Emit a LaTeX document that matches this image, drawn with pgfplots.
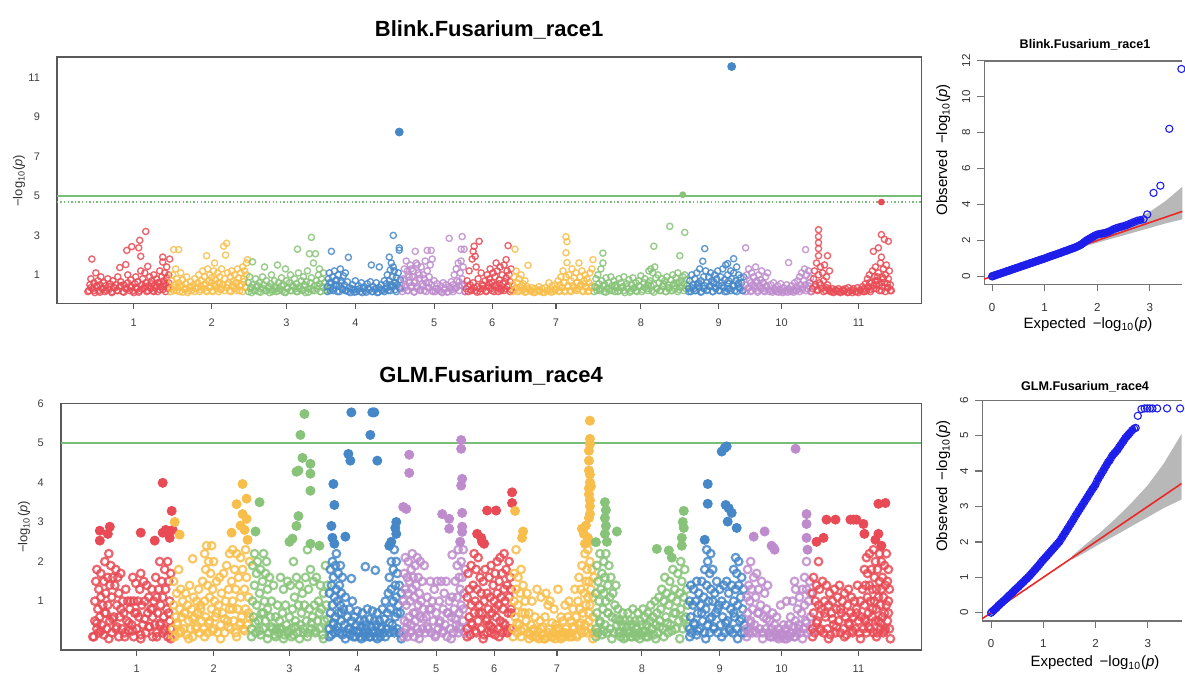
\documentclass[border=0pt]{standalone}
\usepackage{pgfplots}
\usepackage{pgfplotstable}
\pgfplotsset{compat=1.18}
\usepackage{fontspec}
\setmainfont{Liberation Sans}
\definecolor{cr}{RGB}{232,75,85}
\definecolor{co}{RGB}{248,190,75}
\definecolor{cg}{RGB}{135,195,120}
\definecolor{cb}{RGB}{70,135,200}
\definecolor{cp}{RGB}{190,140,205}
\definecolor{thr}{RGB}{120,190,120}
\definecolor{qb}{RGB}{30,30,235}
\definecolor{qr}{RGB}{235,40,40}
\pgfplotstableread{
x y
0 0
0.01 0.02
0.03 0.03
0.05 0.06
0.08 0.08
0.1 0.11
0.13 0.13
0.16 0.16
0.19 0.2
0.22 0.22
0.25 0.25
0.28 0.29
0.31 0.31
0.34 0.34
0.37 0.38
0.4 0.4
0.43 0.43
0.46 0.47
0.49 0.49
0.52 0.52
0.55 0.56
0.58 0.58
0.61 0.61
0.64 0.65
0.67 0.67
0.7 0.7
0.73 0.74
0.76 0.76
0.79 0.79
0.82 0.83
0.85 0.85
0.88 0.88
0.91 0.92
0.94 0.94
0.97 0.97
1.0 1.0
1.03 1.03
1.06 1.07
1.09 1.1
1.12 1.13
1.15 1.16
1.18 1.19
1.21 1.22
1.24 1.25
1.27 1.28
1.3 1.31
1.33 1.35
1.36 1.38
1.39 1.41
1.42 1.44
1.45 1.47
1.48 1.51
1.51 1.54
1.54 1.57
1.57 1.6
1.6 1.64
1.63 1.68
1.66 1.72
1.69 1.77
1.72 1.83
1.75 1.9
1.78 1.97
1.81 2.03
1.84 2.08
1.87 2.13
1.9 2.18
1.93 2.23
1.96 2.28
2.0 2.33
2.04 2.36
2.08 2.38
2.12 2.4
2.16 2.43
2.2 2.47
2.24 2.52
2.28 2.58
2.32 2.64
2.36 2.68
2.4 2.72
2.45 2.76
2.5 2.8
2.55 2.85
2.6 2.91
2.65 2.97
2.7 3.03
2.76 3.1
2.82 3.14
2.88 3.18
}\qqa
\pgfplotstableread{
x y
0 0
0.02 0.03
0.05 0.07
0.08 0.11
0.11 0.15
0.14 0.2
0.17 0.24
0.2 0.28
0.23 0.32
0.26 0.36
0.29 0.4
0.32 0.45
0.35 0.49
0.38 0.53
0.41 0.57
0.44 0.62
0.47 0.66
0.5 0.7
0.53 0.74
0.56 0.79
0.59 0.83
0.62 0.87
0.65 0.92
0.68 0.96
0.71 1.0
0.74 1.05
0.77 1.1
0.8 1.15
0.83 1.2
0.86 1.25
0.89 1.3
0.92 1.35
0.95 1.41
0.98 1.46
1.01 1.51
1.04 1.56
1.07 1.61
1.1 1.66
1.13 1.71
1.16 1.76
1.19 1.81
1.22 1.86
1.25 1.91
1.28 1.96
1.31 2.01
1.34 2.08
1.37 2.15
1.4 2.22
1.43 2.29
1.46 2.36
1.49 2.43
1.52 2.5
1.55 2.57
1.58 2.64
1.61 2.72
1.64 2.79
1.67 2.86
1.7 2.93
1.73 3.0
1.76 3.07
1.79 3.14
1.82 3.21
1.85 3.28
1.88 3.35
1.91 3.42
1.94 3.49
1.97 3.55
2.0 3.62
2.03 3.72
2.06 3.8
2.09 3.87
2.12 3.95
2.15 4.02
2.18 4.1
2.21 4.17
2.24 4.25
2.27 4.3
2.3 4.38
2.33 4.45
2.36 4.5
2.39 4.55
2.42 4.6
2.45 4.67
2.48 4.73
2.51 4.8
2.54 4.86
2.57 4.93
2.6 4.98
2.63 5.03
2.66 5.08
2.7 5.15
2.74 5.2
2.77 5.22
}\qqb
\pgfplotsset{
 manh/.style={scale only axis, anchor=south west,
   axis line style={draw=black!65, line width=0.7pt},
   tick align=outside, major tick length=3pt,
   xtick pos=bottom, ytick pos=left,
   x tick style={draw=black!65, line width=0.6pt}, y tick style={draw=none},
   tick label style={font=\fontsize{5.5}{6}\selectfont, text=black!75},
   xticklabel style={anchor=center, yshift=-6.5pt},
   yticklabel style={anchor=east, xshift=-2pt},
   xticklabels={1,2,3,4,5,6,7,8,9,10,11}},
 qq/.style={scale only axis, anchor=south west,
   axis x line*=box, axis y line*=left,
   axis line style={draw=black!55, line width=0.7pt},
   tick align=outside, major tick length=3.5pt,
   xtick pos=bottom, ytick pos=left,
   tick style={draw=black!55, line width=0.6pt},
   tick label style={font=\fontsize{5.8}{6.5}\selectfont, text=black!80},
   xticklabel style={anchor=center, yshift=-8pt},
   yticklabel style={rotate=90, anchor=south},
   xtick={0,1,2,3}, xticklabels={0,1,2,3}},
 ot/.style={only marks, mark=o, mark size=1.55pt, mark options={line width=0.7pt, draw opacity=0.85}},
 ft/.style={only marks, mark=*, mark size=2pt},
 ob/.style={only marks, mark=o, mark size=1.9pt, mark options={line width=1.1pt, draw opacity=0.85}},
 fb/.style={only marks, mark=*, mark size=2.3pt},
 qp/.style={only marks, mark=o, mark size=1.8pt, color=qb, mark options={line width=0.55pt}},
 ql/.style={no marks, color=qb, line width=2.4pt},
}
\begin{document}
\begin{tikzpicture}
\path (0,0) rectangle (592.5pt,337.5pt);
% ---------------- top Manhattan ----------------
\begin{axis}[manh, at={(28.5pt,185.5pt)}, width=433pt, height=123.5pt,
  xmin=57, xmax=923, ymin=-0.45, ymax=12.05,
  ytick={1,3,5,7,9,11}, yticklabels={1,3,5,7,9,11},
  xtick={134,212,287,356,435,493,557,642,720,783,860}]
\addplot[thr, line width=0.8pt] coordinates {(57,5)(923,5)};
\addplot[thr, line width=0.8pt, dash pattern=on 0.7pt off 1.1pt] coordinates {(57,4.7)(923,4.7)};
% dense low layers
\addplot[ot, cr] coordinates {(88,.15)(91,.35)(94,.2)(97,.45)(100,.12)(103,.3)(106,.22)(109,.4)(112,.15)(115,.33)(118,.2)(121,.45)(124,.12)(127,.3)(130,.4)(133,.18)(136,.35)(139,.12)(142,.28)(145,.42)(148,.2)(151,.35)(154,.15)(157,.45)(160,.25)(163,.4)(166,.15)(169,.35)(164,.55)(158,.6)(152,.55)(466,.15)(469,.4)(472,.2)(475,.35)(478,.12)(481,.3)(484,.45)(487,.15)(490,.35)(493,.2)(496,.45)(499,.15)(502,.3)(505,.2)(508,.4)(511,.15)(490,.6)(500,.55)(506,.65)(813,.15)(816,.4)(819,.25)(822,.5)(825,.15)(828,.35)(831,.2)(834,.15)(838,.2)(842,.15)(846,.2)(850,.12)(854,.22)(858,.15)(862,.2)(866,.15)(869,.35)(872,.15)(875,.3)(878,.5)(881,.2)(884,.4)(887,.15)(890,.35)(893,.2)(871,.6)(877,.7)(883,.6)(889,.55)(885,.8)(879,.9)};
\addplot[ot, co] coordinates {(171,.15)(174,.35)(177,.2)(180,.45)(183,.12)(186,.3)(189,.2)(192,.4)(195,.15)(198,.35)(201,.25)(204,.5)(207,.15)(210,.35)(213,.2)(216,.45)(219,.15)(222,.3)(225,.2)(228,.5)(231,.15)(234,.35)(237,.2)(240,.45)(243,.15)(246,.35)(212,.6)(220,.55)(236,.6)(244,.65)(514,.15)(517,.35)(520,.2)(523,.45)(526,.12)(529,.3)(532,.2)(536,.12)(540,.22)(544,.12)(548,.2)(552,.12)(556,.22)(560,.15)(563,.35)(566,.2)(569,.45)(572,.15)(575,.35)(578,.2)(581,.45)(584,.15)(587,.35)(590,.2)(593,.45)(585,.55)(578,.6)};
\addplot[ot, cg] coordinates {(249,.15)(252,.35)(255,.2)(258,.45)(261,.12)(264,.3)(267,.2)(270,.4)(273,.15)(276,.3)(279,.2)(282,.45)(285,.12)(288,.3)(291,.2)(294,.4)(297,.15)(300,.3)(303,.2)(306,.45)(309,.12)(312,.3)(315,.2)(318,.45)(321,.15)(324,.35)(327,.2)(595,.15)(598,.35)(601,.2)(604,.45)(607,.12)(610,.3)(613,.2)(616,.45)(619,.15)(622,.35)(625,.2)(628,.4)(631,.12)(634,.3)(637,.2)(640,.45)(643,.15)(646,.35)(649,.2)(652,.45)(655,.12)(658,.3)(661,.2)(664,.4)(667,.15)(670,.3)(673,.2)(676,.45)(679,.15)(682,.35)(685,.2)(688,.45)(650,.6)(665,.55)(680,.6)};
\addplot[ot, cb] coordinates {(328,.15)(331,.35)(334,.2)(337,.45)(340,.15)(343,.3)(346,.2)(349,.15)(352,.3)(355,.12)(358,.25)(361,.15)(364,.3)(367,.12)(370,.25)(373,.15)(376,.3)(379,.12)(382,.25)(385,.15)(388,.35)(391,.2)(394,.45)(397,.15)(400,.35)(330,.6)(336,.7)(342,.6)(396,.6)(391,.5)(690,.15)(693,.35)(696,.2)(699,.45)(702,.12)(705,.3)(708,.2)(711,.45)(714,.15)(717,.35)(720,.2)(723,.45)(726,.15)(729,.3)(732,.2)(735,.45)(738,.15)(741,.35)(744,.2)(700,.6)(715,.65)(730,.7)(740,.6)};
\addplot[ot, cp] coordinates {(403,.15)(406,.35)(409,.2)(412,.45)(415,.12)(418,.3)(421,.2)(424,.45)(427,.15)(430,.35)(433,.2)(436,.15)(439,.3)(442,.15)(445,.25)(448,.12)(451,.3)(454,.15)(457,.35)(460,.2)(463,.45)(466,.15)(405,.7)(410,.9)(415,.6)(420,1.0)(425,.8)(430,.6)(460,.65)(412,1.3)(418,1.5)(408,1.2)(747,.15)(750,.35)(753,.2)(756,.45)(759,.12)(762,.3)(765,.2)(768,.45)(771,.15)(774,.12)(777,.22)(780,.12)(783,.2)(786,.15)(789,.12)(792,.22)(795,.12)(798,.2)(801,.15)(804,.35)(807,.2)(810,.45)(812,.15)(752,.6)(758,.7)(764,.6)};
% chr1
\addplot[ot, cr] coordinates {(89,.2)(90,.5)(91,.8)(92,1.8)(93,.3)(94,.6)(95,.1)(96,1.1)(97,.4)(98,.7)(99,.2)(100,.5)(101,.9)(102,.3)(104,.6)(105,.15)(106,.45)(108,.8)(109,.25)(110,.55)(112,.1)(113,.7)(114,.35)(116,.5)(117,.2)(118,.9)(120,1.37)(120,.4)(121,.65)(123,.15)(124,.5)(126,1.52)(126,.3)(127,2.24)(128,1.0)(128,.6)(130,.2)(131,.75)(132,2.43)(132,.4)(134,.1)(135,.55)(136,.9)(137,.3)(138,.65)(139,2.37)(140,2.75)(141,1.94)(140,.2)(141,1.2)(142,.5)(143,.8)(144,.3)(145,1.1)(146,3.2)(146,.6)(148,1.43)(147,.15)(149,.45)(150,.9)(151,.3)(152,.7)(153,.2)(154,1.0)(155,.5)(156,.35)(157,.8)(158,.15)(159,.6)(160,1.2)(161,.4)(162,.9)(163,1.9)(163,1.65)(163,.25)(164,.7)(165,1.1)(166,.5)(167,.85)(167,1.4)(168,.3)(169,1.0)(170,1.8)(169,.6)};
% chr2
\addplot[ot, co] coordinates {(171,.3)(172,.7)(173,1.0)(174,2.28)(174,.2)(175,.5)(176,1.3)(177,.8)(178,.35)(179,2.28)(179,.6)(180,.15)(181,1.1)(182,.45)(183,.75)(185,.25)(186,.55)(187,.9)(188,.1)(190,.4)(191,.65)(192,.2)(194,.5)(195,.8)(196,.3)(198,.6)(199,1.0)(200,.15)(201,.45)(202,.7)(203,1.2)(204,.3)(205,.9)(206,.55)(207,1.97)(207,.2)(208,1.3)(209,.7)(210,1.0)(211,.4)(212,.85)(213,.15)(214,1.2)(215,1.6)(215,.5)(216,.75)(217,.3)(218,1.1)(219,.6)(220,.9)(221,.25)(222,1.3)(223,.5)(224,2.45)(225,.8)(226,2.0)(227,2.6)(227,.35)(228,1.1)(229,.6)(230,.2)(231,.9)(232,1.2)(233,.45)(234,.7)(235,1.0)(236,.3)(237,.6)(238,1.3)(239,.85)(240,.2)(241,1.1)(242,.5)(243,1.4)(244,.8)(245,1.2)(246,.4)(247,1.6)(248,1.77)(247,1.0)};
% chr3
\addplot[ot, cg] coordinates {(249,.6)(250,.9)(251,.3)(252,.1)(253,1.66)(253,.5)(255,.2)(256,.8)(257,.4)(259,.15)(260,.6)(261,.3)(263,.9)(264,.5)(265,1.4)(266,.2)(267,.7)(269,.35)(270,.1)(271,.55)(272,1.0)(273,.25)(275,.7)(276,.4)(278,1.5)(277,.15)(279,.6)(280,.3)(282,.85)(283,.2)(284,.5)(286,1.3)(286,.1)(287,.7)(288,.35)(290,.6)(291,1.0)(292,.2)(293,.45)(295,.8)(296,.3)(297,.55)(298,2.3)(298,.15)(299,1.1)(300,.4)(302,.7)(303,.25)(304,.9)(305,.5)(306,.1)(307,.65)(308,1.2)(309,.3)(310,2.07)(311,.6)(312,2.9)(312,.85)(313,.2)(314,1.6)(315,.45)(316,2.07)(317,.7)(318,.3)(319,1.0)(320,1.3)(320,.55)(321,.15)(322,.8)(323,.4)(324,1.1)(325,.6)(326,.25)};
% chr4
\addplot[ot, cb] coordinates {(328,.4)(329,.8)(330,1.1)(331,.2)(332,2.19)(332,.6)(333,.9)(334,.3)(335,1.2)(336,.5)(337,.75)(338,.15)(339,1.0)(340,.45)(341,1.3)(342,.7)(343,.25)(344,.95)(345,.5)(346,1.1)(347,.2)(348,.65)(349,1.89)(350,.35)(351,.1)(353,.5)(354,.25)(356,.7)(357,.15)(359,.45)(360,.3)(362,.6)(363,.1)(365,.4)(366,.2)(368,.55)(369,.3)(371,.65)(372,1.5)(373,.15)(374,.4)(376,.25)(377,.6)(378,.1)(380,1.4)(380,.35)(382,.5)(383,.2)(385,.7)(386,.3)(387,.55)(388,1.0)(389,.2)(390,1.9)(390,.7)(391,1.25)(392,1.6)(392,.4)(393,.9)(394,1.4)(394,3.0)(395,1.2)(395,.6)(396,.25)(397,.85)(398,.5)(399,1.1)(400,2.37)(400,2.25)(401,.3)(401,.75)};
% chr5
\addplot[ot, cp] coordinates {(403,.3)(404,.8)(405,1.3)(406,.5)(407,1.7)(408,.2)(409,1.0)(410,.6)(411,1.5)(412,.35)(413,.9)(414,1.2)(415,.15)(416,2.19)(416,.7)(417,1.6)(418,.4)(419,1.1)(420,.8)(421,.25)(422,1.4)(423,.55)(424,1.0)(425,.2)(426,1.7)(427,.6)(428,2.24)(428,1.2)(429,.35)(430,.9)(431,1.5)(432,2.24)(432,.5)(433,1.8)(434,.15)(435,.7)(437,.3)(438,.55)(440,.2)(441,.45)(443,.1)(444,.6)(446,.3)(447,.5)(449,.15)(450,2.85)(450,.4)(452,.65)(453,.25)(454,.5)(455,1.0)(456,.3)(457,1.3)(458,.7)(459,1.6)(460,.45)(461,1.1)(462,2.3)(462,1.7)(463,2.94)(463,.8)(464,1.4)(465,2.3)(465,.5)};
% chr6
\addplot[ot, cr] coordinates {(467,.3)(468,.7)(469,.15)(470,1.2)(471,.5)(472,.25)(473,1.8)(474,2.19)(474,.6)(475,2.45)(476,1.94)(476,.2)(477,1.4)(478,.4)(480,2.7)(479,.8)(481,.15)(482,1.1)(483,.5)(484,.3)(486,.7)(487,.2)(488,1.0)(489,.45)(490,.8)(491,1.3)(492,.3)(493,.6)(494,1.1)(495,.15)(496,.9)(497,1.6)(497,.5)(498,1.2)(499,.35)(500,.75)(501,1.4)(502,.2)(503,1.0)(504,.55)(505,1.5)(506,.3)(507,1.77)(507,.85)(508,1.2)(509,2.48)(509,.45)(510,1.0)(511,.65)(512,1.3)(512,.25)};
% chr7
\addplot[ot, co] coordinates {(514,.5)(515,.9)(516,2.3)(516,.25)(517,1.2)(518,.6)(519,.15)(520,.8)(521,.4)(522,1.0)(523,.2)(524,.55)(525,.3)(526,.7)(527,.15)(529,1.48)(528,.4)(530,.25)(532,.15)(533,.35)(535,.1)(536,.3)(538,.2)(540,.4)(541,.15)(543,.3)(545,.1)(546,.35)(548,.2)(550,.6)(551,.25)(553,.45)(554,.15)(556,.5)(557,.3)(559,.7)(560,.2)(561,.5)(562,.9)(563,.35)(564,1.2)(565,.6)(566,.15)(567,2.93)(568,2.68)(567,2.12)(568,1.62)(567,.9)(569,.4)(570,1.0)(571,.2)(572,.7)(573,1.3)(574,.45)(575,.85)(576,.25)(577,1.1)(578,.6)(580,1.6)(579,.3)(581,.9)(582,.5)(583,1.2)(584,.2)(585,.7)(586,1.0)(587,.4)(588,.8)(589,.15)(590,.6)(591,1.1)(592,.35)(593,1.3)(594,1.77)};
% chr8
\addplot[ot, cg] coordinates {(596,.4)(597,.8)(598,.2)(599,1.0)(600,.55)(601,.3)(602,1.3)(603,.7)(604,2.1)(604,1.6)(605,.15)(606,.5)(607,.85)(608,.3)(610,.6)(611,.2)(612,.9)(613,.45)(615,.7)(616,.15)(617,.5)(618,.35)(620,.8)(621,.2)(622,.6)(624,.4)(625,.9)(626,.1)(628,.55)(629,.3)(630,.75)(632,.2)(633,.5)(634,.85)(636,.35)(637,.6)(638,.15)(640,.7)(641,.4)(642,.95)(644,.25)(645,.6)(646,.8)(648,.3)(649,.5)(650,1.2)(651,.7)(652,1.3)(653,.2)(654,1.1)(655,2.45)(655,.5)(656,1.4)(657,.85)(658,.3)(659,1.0)(660,.6)(662,.2)(663,.8)(664,.45)(666,.7)(667,.15)(668,.9)(669,.5)(670,.35)(671,3.46)(672,.75)(673,.2)(674,1.0)(675,.55)(676,.3)(677,.85)(678,.6)(679,1.1)(681,1.97)(680,.25)(682,.7)(683,.4)(684,.9)(685,.55)(686,3.15)(686,1.0)(687,.3)(688,.75)};
% chr9
\addplot[ot, cb] coordinates {(690,.3)(691,.7)(692,.15)(693,1.0)(694,.5)(695,.3)(696,.8)(697,.2)(698,1.1)(699,.55)(700,.35)(701,1.3)(702,.7)(703,.15)(704,1.69)(705,.9)(706,2.33)(706,.45)(707,1.2)(708,.6)(709,.25)(710,.9)(711,.4)(712,1.1)(713,.7)(714,.15)(715,.55)(716,1.0)(717,.3)(718,.8)(719,1.2)(720,.45)(721,.2)(722,.9)(723,.6)(724,1.3)(725,.35)(726,.75)(727,1.5)(728,.15)(729,1.57)(729,1.0)(730,.55)(731,.3)(732,1.2)(733,.8)(734,.45)(735,1.82)(735,1.1)(736,.2)(737,.7)(738,1.4)(739,.5)(740,1.0)(741,.3)(742,.85)(743,.6)(744,.2)(745,.9)};
% chr10
\addplot[ot, cp] coordinates {(747,2.37)(747,.5)(748,1.0)(749,.3)(750,1.3)(751,.7)(752,.15)(753,1.1)(754,.5)(755,.9)(756,.3)(757,1.4)(758,.6)(759,.2)(760,1.0)(761,.45)(762,.75)(763,1.2)(764,.3)(765,.6)(766,.15)(767,.9)(768,.4)(769,1.1)(770,.25)(772,.5)(773,.2)(775,.6)(776,.3)(778,.15)(779,.45)(781,.25)(782,.55)(784,.1)(785,.35)(787,.2)(788,.5)(790,1.62)(790,.3)(792,.15)(793,.45)(795,.25)(796,.6)(797,.2)(798,.4)(799,.7)(800,.3)(801,.9)(802,.5)(803,1.1)(804,.25)(805,.7)(806,1.3)(807,2.28)(807,.5)(808,1.0)(809,.3)(810,1.2)(811,.6)(812,.85)};
% chr11
\addplot[ot, cr] coordinates {(814,.3)(815,.8)(816,1.2)(817,.5)(818,1.6)(819,.2)(820,1.97)(820,2.33)(820,2.63)(820,2.94)(820,3.29)(820,1.0)(821,.6)(822,1.4)(823,.3)(824,1.1)(825,.7)(826,1.5)(827,.2)(828,.9)(829,1.97)(829,.5)(830,.3)(831,1.2)(832,.15)(834,.3)(835,.1)(837,.25)(839,.15)(840,.3)(842,.1)(844,.25)(845,.15)(847,.3)(849,.1)(850,.35)(852,.2)(854,.1)(855,.3)(857,.15)(859,.35)(860,.1)(862,.25)(864,.4)(865,.15)(866,.3)(867,.55)(868,.2)(869,.8)(870,.4)(871,1.0)(872,.25)(873,.6)(874,1.2)(875,2.19)(875,.45)(876,.9)(877,1.4)(878,.3)(879,.7)(880,2.37)(880,1.1)(881,.5)(882,1.6)(883,3.04)(883,1.9)(883,.2)(884,.9)(885,1.3)(886,2.8)(886,.6)(887,1.0)(888,1.5)(889,.35)(890,2.7)(890,.8)(891,1.2)(892,.5)(892,.2)};
% significant
\addplot[ft, cb] coordinates {(400,8.24)(733,11.56)};
\addplot[ft, cg, mark size=1.5pt] coordinates {(684,5.06)};
\addplot[ft, cr, mark size=1.5pt] coordinates {(883,4.69)};
\end{axis}
% ---------------- bottom Manhattan ----------------
\begin{axis}[manh, at={(30.5pt,12pt)}, width=431pt, height=123.5pt,
  xmin=61, xmax=923, ymin=-0.23, ymax=6.0,
  ytick={1,2,3,4,5,6}, yticklabels={1,2,3,4,5,6},
  xtick={137,214,290,358,437,495,558,643,721,783,860}]
\addplot[thr, line width=0.8pt] coordinates {(61,5)(923,5)};
% dense low layers
\addplot[ob, cr] coordinates {(93,.1)(97,.45)(101,.25)(105,.7)(109,.05)(113,.55)(117,.35)(121,.8)(125,.1)(129,.45)(133,.25)(137,.7)(141,.05)(145,.55)(149,.35)(153,.8)(157,.1)(161,.45)(165,.25)(169,.7)(171,.05)(468,.1)(472,.45)(476,.25)(480,.7)(484,.05)(488,.55)(492,.35)(496,.8)(500,.1)(504,.45)(508,.25)(512,.7)(814,.1)(818,.45)(822,.25)(826,.7)(830,.05)(834,.55)(838,.35)(842,.8)(846,.1)(850,.45)(854,.25)(858,.7)(862,.05)(866,.55)(870,.35)(874,.8)(878,.1)(882,.45)(886,.25)(890,.7)(892,.05)};
\addplot[ob, co] coordinates {(173,.1)(177,.45)(181,.25)(185,.7)(189,.05)(193,.55)(197,.35)(201,.8)(205,.1)(209,.45)(213,.25)(217,.7)(221,.05)(225,.55)(229,.35)(233,.8)(237,.1)(241,.45)(245,.25)(249,.7)(514,.1)(518,.45)(522,.25)(526,.7)(530,.05)(534,.25)(538,.1)(542,.3)(546,.05)(550,.2)(554,.1)(558,.3)(562,.05)(566,.2)(570,.1)(574,.35)(578,.1)(582,.45)(586,.25)(590,.7)(594,.05)};
\addplot[ob, cg] coordinates {(252,.1)(256,.45)(260,.25)(264,.7)(268,.05)(272,.35)(276,.1)(280,.3)(284,.05)(288,.25)(292,.1)(296,.35)(300,.05)(304,.3)(308,.1)(312,.45)(316,.25)(320,.7)(324,.05)(328,.55)(597,.1)(601,.45)(605,.25)(609,.7)(613,.05)(617,.55)(621,.2)(625,.05)(629,.25)(633,.1)(637,.3)(641,.05)(645,.2)(649,.1)(653,.3)(657,.05)(661,.35)(665,.1)(669,.45)(673,.25)(677,.7)(681,.05)(685,.55)(689,.35)};
\addplot[ob, cb] coordinates {(330,.1)(334,.45)(338,.25)(342,.7)(346,.05)(350,.3)(354,.1)(358,.25)(362,.05)(366,.3)(370,.1)(374,.25)(378,.05)(382,.3)(386,.1)(390,.45)(394,.25)(398,.7)(402,.05)(691,.1)(695,.45)(699,.25)(703,.7)(707,.05)(711,.55)(715,.35)(719,.8)(723,.1)(727,.45)(731,.25)(735,.7)(739,.05)(743,.55)(746,.2)};
\addplot[ob, cp] coordinates {(404,.1)(408,.45)(412,.25)(416,.7)(420,.05)(424,.55)(428,.35)(432,.8)(436,.1)(440,.45)(444,.25)(448,.7)(452,.05)(456,.55)(460,.35)(464,.8)(748,.1)(752,.45)(756,.25)(760,.7)(764,.05)(768,.55)(772,.1)(776,.2)(780,.05)(784,.15)(788,.05)(792,.2)(796,.1)(800,.3)(804,.05)(808,.45)(812,.25)};
% chr1
\addplot[ob, cr] coordinates {(94,.1)(95,.5)(95,1.0)(96,1.5)(97,.3)(97,1.8)(98,.8)(99,.2)(99,1.3)(100,.6)(101,1.1)(101,1.7)(102,.4)(103,.9)(104,.15)(104,1.5)(105,2.0)(106,.7)(106,1.2)(107,.3)(108,1.6)(108,.9)(109,2.2)(110,.5)(110,1.4)(111,1.9)(112,.2)(112,1.1)(113,1.6)(114,.6)(115,1.4)(116,.3)(116,1.8)(117,.9)(118,1.6)(119,.1)(119,1.2)(120,.6)(121,1.7)(122,.3)(123,1.0)(124,.7)(125,.2)(126,1.3)(127,.5)(128,1.0)(129,.25)(130,.8)(131,1.0)(132,.4)(133,1.6)(134,.1)(134,1.0)(135,.7)(136,1.45)(137,.3)(138,1.0)(139,.6)(140,1.3)(141,.15)(141,1.7)(142,.9)(143,.4)(144,1.5)(145,1.0)(146,.2)(147,1.4)(148,.7)(149,1.1)(150,.35)(151,.8)(152,1.3)(153,.1)(153,.6)(154,1.0)(155,.4)(156,1.6)(157,.2)(157,1.1)(158,.7)(159,1.3)(160,.4)(160,2.0)(161,.9)(162,1.5)(163,.2)(163,1.1)(164,.6)(165,1.8)(165,.3)(166,1.3)(167,.8)(168,2.0)(168,.1)(169,1.5)(170,.5)(170,1.0)(171,1.7)(171,.3)};
\addplot[fb, cr] coordinates {(100,2.78)(100,2.53)(110,2.88)(108,2.7)(141,2.73)(155,2.53)(163,2.73)(166,2.8)(170,2.6)(173,2.8)(163,3.99)(172,3.28)};
% chr2
\addplot[ob, co] coordinates {(173,.3)(174,.9)(174,1.5)(175,.1)(176,.6)(177,1.2)(178,.4)(179,1.8)(180,.8)(181,.2)(181,1.3)(182,.6)(183,1.0)(184,.3)(185,.7)(186,1.2)(187,.15)(188,.9)(189,.5)(190,1.4)(191,.3)(192,.8)(193,2.07)(193,.1)(194,1.1)(195,.6)(196,.3)(197,1.0)(198,.7)(199,1.3)(200,.2)(201,.9)(202,.5)(203,1.5)(204,.3)(205,1.0)(205,2.2)(206,1.8)(206,.6)(207,2.4)(208,1.4)(208,.2)(209,2.0)(210,1.1)(210,.5)(211,1.7)(212,2.4)(212,.8)(213,1.3)(214,.3)(214,2.0)(215,1.0)(216,.6)(217,1.5)(218,.2)(219,.9)(220,1.6)(221,.4)(222,1.2)(223,.7)(224,1.7)(225,.2)(226,1.0)(227,1.9)(228,.5)(229,1.3)(230,2.2)(230,.8)(231,.3)(232,1.5)(233,2.3)(233,1.0)(234,.5)(235,1.8)(236,.2)(236,1.3)(237,2.2)(238,.8)(239,1.6)(240,.4)(241,2.1)(241,1.1)(242,.6)(243,1.8)(244,.3)(245,1.3)(246,2.3)(246,.8)(247,1.6)(248,.4)(249,1.1)(250,2.0)(250,.6)};
\addplot[fb, co] coordinates {(175,3.0)(180,2.68)(232,2.73)(237,3.45)(241,2.91)(243,3.96)(243,3.2)(247,3.59)(247,3.08)(245,2.8)(248,2.55)};
% chr3
\addplot[ob, cg] coordinates {(252,.3)(253,1.0)(253,1.9)(254,.6)(255,2.2)(255,1.4)(256,.2)(257,1.7)(257,.9)(258,2.0)(259,.5)(260,1.2)(261,.15)(261,1.8)(262,.7)(263,1.5)(264,.3)(264,2.2)(265,1.0)(266,.5)(266,1.7)(267,2.0)(268,.8)(268,1.3)(269,.2)(270,1.6)(271,.6)(272,1.0)(273,.3)(274,1.4)(275,.15)(276,.6)(277,.3)(278,.9)(279,.2)(280,.5)(281,1.6)(282,.3)(283,.7)(284,1.3)(285,.15)(286,.9)(287,.4)(288,1.5)(289,.2)(290,.6)(291,1.4)(292,.3)(293,.8)(294,2.0)(294,.15)(295,1.1)(296,.5)(297,1.6)(298,.2)(299,.9)(300,1.4)(301,.4)(302,.7)(303,1.2)(304,.2)(305,.9)(306,1.6)(307,.5)(308,2.3)(308,.2)(309,1.3)(310,.8)(311,1.8)(312,.3)(313,.6)(314,1.5)(315,.9)(316,.2)(317,1.6)(318,.5)(319,1.0)(320,.3)(321,1.4)(322,.8)(323,.15)(324,1.2)(325,.5)(326,1.9)(327,.9)(328,1.4)(328,.3)};
\addplot[fb, cg] coordinates {(256,2.76)(260,3.5)(293,2.58)(290,2.5)(297,2.9)(299,3.15)(297,4.27)(299,4.3)(303,4.62)(301,5.2)(305,5.73)(311,4.47)(311,4.22)(311,3.79)(311,2.45)(320,2.4)};
% chr4
\addplot[ob, cb] coordinates {(330,.3)(330,1.2)(331,.7)(331,1.8)(332,.15)(332,1.4)(333,.9)(333,2.0)(334,.4)(334,1.6)(335,1.1)(335,.2)(336,1.9)(336,.6)(337,1.3)(337,2.2)(338,.35)(338,1.0)(339,1.7)(339,.7)(340,.2)(340,1.4)(341,.9)(341,1.9)(342,.5)(342,1.2)(343,.15)(343,1.6)(344,.8)(345,.4)(346,1.1)(347,.2)(348,.6)(349,.3)(350,.8)(351,.15)(352,.5)(352,1.57)(353,1.0)(354,.25)(355,.6)(356,.1)(357,.4)(358,.75)(359,.2)(360,.5)(361,.1)(362,.35)(363,.7)(364,.2)(365,.5)(366,1.87)(366,.1)(367,.4)(368,.8)(369,.2)(370,.55)(371,.1)(372,.35)(373,.75)(374,.2)(375,.5)(376,1.78)(376,.1)(377,.4)(378,.7)(379,.2)(380,.5)(381,.1)(382,.35)(383,.8)(384,.2)(385,.55)(386,1.0)(387,.3)(388,.7)(389,1.2)(390,.2)(390,1.6)(391,.8)(392,1.3)(392,2.0)(393,.4)(394,1.0)(394,1.8)(395,.2)(395,2.3)(396,1.4)(396,.6)(397,2.0)(397,1.1)(398,.3)(398,1.7)(399,.9)(400,1.4)(400,.2)(401,.7)(402,1.2)};
\addplot[fb, cb] coordinates {(334,3.96)(335,3.43)(332,2.9)(333,2.6)(335,2.45)(346,2.63)(349,4.72)(351,4.55)(352,5.77)(371,5.2)(373,5.77)(375,5.77)(378,4.55)(397,3.0)(396,2.85)(397,2.7)(390,2.4)(392,2.5)};
% chr5
\addplot[ob, cp] coordinates {(404,.2)(404,1.0)(405,1.7)(405,.5)(406,2.1)(406,1.3)(407,.3)(407,.9)(408,1.6)(408,.1)(409,1.2)(409,2.0)(410,.6)(410,1.5)(411,.2)(411,1.0)(412,1.8)(412,.4)(413,1.3)(413,2.2)(414,.7)(414,1.6)(415,.1)(415,1.1)(416,1.9)(416,.5)(417,1.4)(418,.3)(418,2.1)(419,.9)(419,1.6)(420,.2)(420,1.2)(421,.6)(421,2.0)(422,1.0)(423,.3)(423,1.5)(424,.8)(425,1.9)(426,.2)(427,.6)(428,1.1)(429,.3)(430,.8)(431,1.5)(432,.2)(433,1.0)(434,.5)(435,1.3)(436,.15)(437,.7)(438,1.5)(439,.3)(440,1.0)(441,.5)(442,1.5)(443,.2)(444,.8)(445,1.2)(446,.4)(447,1.5)(448,.1)(449,.7)(450,1.0)(451,.3)(452,.6)(453,2.17)(453,1.1)(454,.2)(455,.8)(456,1.5)(457,.4)(458,1.9)(458,1.1)(459,.2)(459,2.3)(460,.7)(460,1.6)(461,1.3)(461,.3)(462,2.0)(462,.9)(463,1.6)(464,.5)(464,2.3)(465,1.2)(466,.2)(466,1.8)};
\addplot[fb, cp] coordinates {(404,3.38)(407,3.33)(410,4.7)(410,4.24)(443,3.2)(450,3.08)(450,2.83)(462,5.07)(462,4.85)(463,4.09)(462,3.92)(463,3.23)(463,2.88)(463,2.75)(461,2.5)};
% chr6
\addplot[ob, cr] coordinates {(468,.3)(468,1.1)(469,1.7)(470,.6)(470,1.3)(471,.15)(472,.9)(472,1.9)(473,.4)(474,1.4)(475,2.2)(475,.7)(476,1.0)(477,.2)(477,1.8)(478,1.3)(479,.5)(479,2.1)(480,.9)(481,1.6)(482,.3)(482,1.2)(483,.7)(484,1.5)(485,.15)(485,1.0)(486,1.8)(487,.5)(488,1.2)(488,.2)(489,.8)(490,1.6)(490,.4)(491,1.1)(492,.2)(492,1.9)(493,.7)(494,1.4)(494,.3)(495,1.0)(496,.15)(496,1.7)(497,.6)(498,1.2)(498,2.0)(499,.3)(499,.9)(500,1.5)(501,.5)(501,2.1)(502,1.1)(503,.2)(503,1.7)(504,.8)(505,1.3)(505,2.2)(506,.4)(506,1.0)(507,1.8)(508,.2)(508,1.4)(509,.7)(510,2.0)(510,1.1)(511,.3)(511,1.6)(512,.8)(512,1.3)};
\addplot[fb, cr] coordinates {(488,3.29)(497,3.29)(513,3.75)(513,3.48)(478,2.7)(483,2.5)(485,2.45)(482,2.6)};
% chr7
\addplot[ob, co] coordinates {(514,.3)(515,1.0)(515,1.7)(516,.6)(517,1.3)(517,2.3)(518,.2)(519,.9)(519,1.6)(520,.4)(521,1.2)(522,.1)(522,1.8)(523,.7)(524,1.4)(525,.3)(526,1.0)(527,.5)(528,1.2)(529,.2)(530,.7)(531,.15)(532,.4)(533,1.0)(534,.1)(535,.3)(536,.6)(537,.1)(538,1.3)(539,.25)(540,.05)(541,.5)(542,1.1)(543,.15)(544,.35)(545,.05)(546,.6)(547,1.2)(548,.1)(549,.9)(550,.3)(551,1.0)(552,.1)(553,.45)(554,.2)(555,.8)(556,.05)(557,.4)(558,.15)(559,1.3)(560,.3)(561,.1)(562,.6)(563,.2)(564,.5)(565,.1)(566,.9)(567,.3)(568,.15)(569,.6)(570,1.0)(571,.2)(572,.5)(573,.1)(574,.8)(575,.3)(576,1.3)(577,.6)(578,.15)(579,1.0)(580,1.6)(580,.4)(581,.8)(582,1.3)(583,.2)(583,1.9)(584,.7)(585,1.2)(586,.4)(586,2.2)(587,1.5)(587,.9)(588,.2)(588,1.8)(589,1.1)(589,2.3)(590,.5)(590,1.5)(591,2.0)(591,.9)(592,.3)(592,1.3)(593,1.8)(594,.6)(594,1.1)(595,.2)(595,1.6)};
\addplot[fb, co] coordinates {(516,3.28)(524,2.76)(523,2.6)(587,2.91)(583,2.83)(585,2.7)(589,2.6)(590,3.1)(591,3.4)(590,3.7)(591,4.0)(590,4.3)(590,4.55)(591,4.97)(591,5.1)(591,5.56)(592,3.9)(589,2.5)(586,2.45)(591,3.2)(591,3.55)(590,3.85)(591,4.2)(590,4.8)};
% chr8
\addplot[ob, cg] coordinates {(597,.3)(597,1.2)(598,.7)(598,1.9)(599,.2)(599,1.5)(600,1.0)(601,.5)(601,2.2)(602,1.3)(603,.15)(603,1.7)(604,.8)(605,1.2)(605,2.0)(606,.4)(606,1.6)(607,1.0)(607,2.2)(608,.2)(609,1.4)(609,.7)(610,1.9)(611,.3)(611,1.1)(612,1.6)(613,.6)(614,1.2)(615,.2)(616,.9)(617,1.4)(618,.4)(619,.8)(620,.2)(621,.5)(622,.1)(623,.4)(624,.7)(625,.2)(626,.5)(627,.1)(628,.35)(629,.7)(630,.2)(631,.5)(632,.1)(633,.4)(634,.8)(635,.2)(636,.5)(637,.1)(638,.3)(639,.7)(640,.2)(641,.5)(642,.15)(643,.4)(644,.8)(645,.25)(646,.6)(647,.1)(648,.4)(649,.7)(650,.2)(651,.5)(652,.9)(653,.3)(654,.6)(655,.15)(656,1.0)(657,.4)(658,.7)(659,.2)(660,1.1)(661,.5)(662,.8)(663,1.3)(664,.3)(665,1.0)(666,1.6)(667,.6)(668,1.2)(669,.2)(670,.9)(671,1.5)(672,.4)(673,1.1)(674,1.8)(675,.7)(676,1.3)(677,.3)(678,1.0)(679,1.7)(680,.5)(681,1.2)(682,2.0)(682,.8)(683,1.5)(684,.3)(685,1.1)(686,1.8)(687,.6)(688,1.3)(689,.9)};
\addplot[fb, cg] coordinates {(597,2.49)(606,3.5)(607,3.3)(606,3.1)(607,2.9)(606,2.7)(608,2.5)(618,2.76)(658,2.32)(670,2.28)(673,2.1)(685,3.28)(685,2.85)(683,2.6)(683,2.4)(684,3.0)};
% chr9
\addplot[ob, cb] coordinates {(691,.3)(691,1.0)(692,.6)(692,1.4)(693,.2)(694,.9)(695,1.3)(696,.4)(697,1.0)(698,.15)(698,1.5)(699,.7)(700,1.2)(701,.3)(702,.9)(703,1.5)(704,.5)(705,1.1)(706,.2)(706,1.8)(707,.8)(708,1.4)(708,2.3)(709,.4)(709,2.0)(710,1.0)(711,1.7)(711,.2)(712,1.3)(712,2.2)(713,.6)(714,1.0)(714,1.8)(715,.3)(716,1.2)(717,.7)(718,1.5)(719,.2)(720,.9)(721,1.3)(722,.4)(723,1.0)(724,.6)(725,1.4)(726,.2)(727,.9)(728,1.5)(729,.5)(730,1.2)(731,.3)(732,.8)(733,1.4)(734,.2)(735,1.0)(735,1.8)(736,.6)(737,2.1)(737,1.3)(738,.3)(738,1.7)(739,.9)(740,1.4)(740,2.0)(741,.5)(742,1.1)(743,.2)(743,1.6)(744,.8)(745,1.3)(746,.4)};
\addplot[fb, cb] coordinates {(709,3.96)(709,3.46)(706,2.55)(727,3.43)(730,3.35)(733,3.23)(729,3.01)(738,2.85)(723,4.78)(726,4.87)(728,4.91)};
% chr10
\addplot[ob, cp] coordinates {(748,.3)(748,1.1)(749,.7)(749,1.8)(750,.2)(750,1.4)(751,1.0)(752,.5)(752,2.0)(753,1.3)(754,.2)(754,.8)(755,1.6)(756,.4)(757,1.1)(758,.2)(758,1.7)(759,.7)(760,1.3)(761,.3)(762,.9)(763,1.5)(764,.2)(765,.6)(766,1.2)(767,.3)(768,.8)(769,1.4)(770,.2)(771,.5)(772,.1)(773,.3)(774,.7)(775,2.35)(775,.1)(776,.4)(777,.15)(778,.6)(779,.1)(780,.3)(781,.15)(782,.9)(783,.2)(784,.1)(785,.4)(786,.05)(787,.3)(788,1.0)(789,.15)(790,.4)(791,.1)(792,.6)(793,.2)(794,1.0)(795,.35)(796,1.5)(796,.1)(797,1.3)(797,.5)(798,.2)(799,.8)(800,.4)(801,1.1)(802,.2)(803,.7)(804,1.3)(805,.3)(806,1.6)(806,.9)(807,.5)(808,1.3)(808,2.0)(809,.2)(810,1.0)(811,1.5)(812,.6)(812,1.2)};
\addplot[fb, cp] coordinates {(755,2.63)(766,2.76)(773,2.4)(776,2.3)(797,4.85)(808,3.2)(808,2.95)(808,2.6)(809,2.3)};
% chr11
\addplot[ob, cr] coordinates {(814,.3)(814,1.2)(815,.7)(815,1.6)(816,.2)(817,1.0)(818,1.4)(819,.5)(820,2.0)(820,.9)(821,1.3)(822,.3)(823,.8)(824,1.5)(825,.2)(826,1.0)(827,.6)(828,1.4)(829,.3)(830,.9)(831,1.2)(832,.15)(833,.7)(834,1.0)(835,.4)(836,1.3)(837,.2)(838,.8)(839,1.1)(840,.5)(841,1.4)(842,.2)(843,.7)(844,1.0)(845,.3)(846,1.2)(847,.6)(848,.15)(849,.9)(850,1.3)(851,.4)(852,.7)(853,1.1)(854,.2)(855,.6)(856,1.0)(857,.3)(858,.8)(859,1.4)(860,.5)(861,.2)(862,1.0)(863,.6)(864,1.3)(865,.3)(866,1.8)(866,.9)(867,.5)(867,1.4)(868,2.1)(868,.2)(869,1.1)(869,1.7)(870,.7)(871,1.4)(871,2.2)(872,.3)(872,1.0)(873,1.8)(874,.6)(874,1.3)(875,2.3)(875,.2)(876,1.0)(876,1.6)(877,.5)(877,2.0)(878,1.3)(878,.8)(879,.2)(879,1.8)(880,1.1)(880,.5)(881,2.2)(881,1.5)(882,.3)(882,.9)(883,1.3)(883,2.0)(884,.6)(884,1.6)(885,.2)(885,1.1)(886,1.9)(886,.7)(887,1.4)(887,.3)(888,.9)(888,2.2)(889,1.5)(889,.5)(890,1.0)(890,1.8)(891,.3)(891,1.3)};
\addplot[fb, cr] coordinates {(828,3.06)(837,3.06)(852,3.06)(855,3.06)(858,3.06)(865,2.95)(866,2.7)(880,3.46)(887,3.48)(880,2.7)(883,2.4)(877,2.55)(818,2.5)(825,2.6)};
\end{axis}
% ---------------- top QQ ----------------
\begin{axis}[qq, at={(493pt,195pt)}, width=99.3pt, height=112pt,
  xmin=-0.15, xmax=3.62, ymin=-0.45, ymax=12,
  ytick={0,2,4,6,8,10,12}, yticklabels={0,2,4,6,8,10,12}]
\addplot[fill=black!28, draw=none] coordinates {(1.55,1.6)(1.8,1.92)(2.1,2.28)(2.4,2.68)(2.7,3.12)(3.0,3.6)(3.3,4.2)(3.62,5.0)(3.62,3.18)(3.3,2.95)(3.0,2.7)(2.7,2.45)(2.4,2.2)(2.1,1.96)(1.8,1.7)(1.55,1.5)};
\addplot[qr, line width=0.8pt] coordinates {(-0.15,-0.15)(3.62,3.62)};
\addplot[ql] table {\qqa};
\addplot[qp] table {\qqa};
\addplot[qp] coordinates {(2.95,3.45)(3.07,4.65)(3.2,5.05)(3.37,8.22)(3.6,11.55)};
\end{axis}
% ---------------- bottom QQ ----------------
\begin{axis}[qq, at={(492pt,26.5pt)}, width=99.9pt, height=110.5pt,
  xmin=-0.17, xmax=3.65, ymin=-0.23, ymax=6,
  ytick={0,1,2,3,4,5,6}, yticklabels={0,1,2,3,4,5,6}]
\addplot[fill=black!28, draw=none] coordinates {(1.55,1.6)(1.8,1.92)(2.1,2.28)(2.4,2.68)(2.7,3.12)(3.0,3.6)(3.3,4.2)(3.65,5.05)(3.65,3.2)(3.3,2.95)(3.0,2.7)(2.7,2.45)(2.4,2.2)(2.1,1.96)(1.8,1.7)(1.55,1.5)};
\addplot[qr, line width=0.8pt] coordinates {(-0.17,-0.17)(3.65,3.65)};
\addplot[ql] table {\qqb};
\addplot[qp] table {\qqb};
\addplot[qp] coordinates {(2.81,5.56)(2.88,5.75)(2.94,5.77)(2.99,5.77)(3.04,5.77)(3.09,5.77)(3.18,5.77)(3.37,5.77)(3.62,5.77)};
\end{axis}
% ---------------- texts ----------------
\node[font=\fontsize{11}{13}\selectfont\bfseries] at (245pt,322.5pt) {Blink.Fusarium\_race1};
\node[font=\fontsize{11}{13}\selectfont\bfseries] at (246pt,149pt) {GLM.Fusarium\_race4};
\node[rotate=90, font=\fontsize{6.5}{7}\selectfont, text=black!80] at (9.5pt,247pt) {−log\textsubscript{10}(\textit{p})};
\node[rotate=90, font=\fontsize{6.5}{7}\selectfont, text=black!80] at (12pt,73.5pt) {−log\textsubscript{10}(\textit{p})};
\node[font=\fontsize{6.3}{7}\selectfont\bfseries] at (543.5pt,315pt) {Blink.Fusarium\_race1};
\node[font=\fontsize{6.3}{7}\selectfont\bfseries] at (543.5pt,144pt) {GLM.Fusarium\_race4};
\node[rotate=90, font=\fontsize{7.5}{9}\selectfont] at (472.5pt,262.5pt) {Observed\hspace{0.45em}−log\textsubscript{10}(\textit{p})};
\node[font=\fontsize{7.5}{9}\selectfont] at (545pt,175pt) {Expected\hspace{0.45em}−log\textsubscript{10}(\textit{p})};
\node[rotate=90, font=\fontsize{7.5}{9}\selectfont] at (472.5pt,94pt) {Observed\hspace{0.45em}−log\textsubscript{10}(\textit{p})};
\node[font=\fontsize{7.5}{9}\selectfont] at (548.5pt,5.5pt) {Expected\hspace{0.45em}−log\textsubscript{10}(\textit{p})};
\end{tikzpicture}
\end{document}
